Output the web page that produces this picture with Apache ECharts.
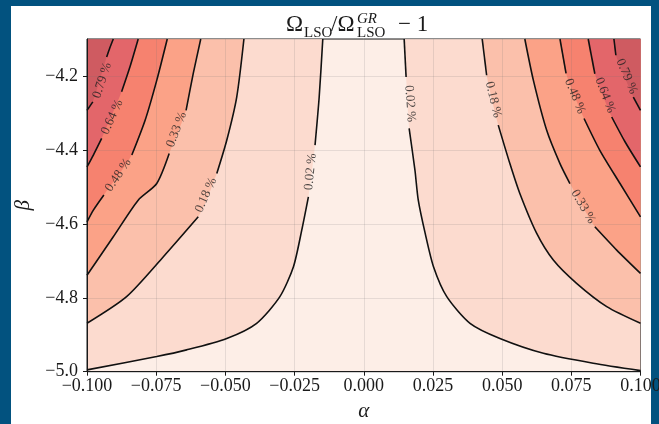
<!DOCTYPE html>
<html>
<head>
<meta charset="utf-8">
<script src="https://cdn.jsdelivr.net/npm/echarts@6/dist/echarts.min.js"></script>
<style>
  html, body { margin: 0; padding: 0; background: #02527f; }
  #sheet { position: absolute; left: 11px; top: 6px; width: 640px; height: 418px; background: #fff; }
  #chart { position: absolute; left: 0; top: 0; width: 659px; height: 424px; }
</style>
</head>
<body>
<div id="sheet"></div>
<div id="chart"></div>
<script>
// contour levels (percent)
var levels = [0.02, 0.18, 0.33, 0.48, 0.64, 0.79];

// axis ticks
var alphaTicks = [-0.1, -0.075, -0.05, -0.025, 0, 0.025, 0.05, 0.075, 0.1];
var betaTicks = [-5.0, -4.8, -4.6, -4.4, -4.2];

// contour lines, [alpha, beta]; each is split in two where the label sits
var left002 = [
    [[-0.0148, -4.1], [-0.0161, -4.257], [-0.0176, -4.387]],
    [[-0.0200, -4.527], [-0.0224, -4.617], [-0.0254, -4.716], [-0.0303, -4.797], [-0.0387, -4.869],
     [-0.0495, -4.910], [-0.0640, -4.941], [-0.0748, -4.959], [-0.1, -4.995]]
];
var left018 = [
    [[-0.0433, -4.1], [-0.0459, -4.257], [-0.0495, -4.374], [-0.0531, -4.464]],
    [[-0.0598, -4.581], [-0.0724, -4.689], [-0.0857, -4.797], [-0.1, -4.869]]
];
var left033 = [
    [[-0.0589, -4.1], [-0.0616, -4.193], [-0.0642, -4.293]],
    [[-0.0703, -4.410], [-0.0748, -4.491], [-0.0815, -4.536], [-0.0905, -4.635], [-0.1, -4.739]]
];
var left048 = [
    [[-0.0710, -4.1], [-0.0748, -4.212], [-0.0790, -4.320], [-0.0838, -4.414]],
    [[-0.0939, -4.522], [-0.0977, -4.563], [-0.1, -4.595]]
];
var left064 = [
    [[-0.0815, -4.1], [-0.0845, -4.176], [-0.0875, -4.243]],
    [[-0.0947, -4.369], [-0.0977, -4.414], [-0.1, -4.446]]
];
var left079 = [
    [[-0.0905, -4.1], [-0.0918, -4.125], [-0.0929, -4.149]],
    [[-0.0979, -4.270], [-0.1, -4.293]]
];

var right002 = [
    [[0.0146, -4.1], [0.0153, -4.203]],
    [[0.0164, -4.342], [0.0185, -4.455], [0.0197, -4.536], [0.0222, -4.626], [0.0252, -4.716], [0.0300, -4.797],
     [0.0384, -4.869], [0.0492, -4.910], [0.0649, -4.950], [0.0829, -4.977], [0.1, -4.997]]
];
var right018 = [
    [[0.0428, -4.1], [0.0444, -4.198]],
    [[0.0486, -4.333], [0.0528, -4.437], [0.0564, -4.518], [0.0625, -4.626], [0.0685, -4.698],
     [0.0769, -4.761], [0.0878, -4.824], [0.1, -4.869]]
];
var right033 = [
    [[0.0582, -4.1], [0.0613, -4.212], [0.0661, -4.347], [0.0709, -4.437], [0.0745, -4.491]],
    [[0.0835, -4.608], [0.0914, -4.671], [0.1, -4.734]]
];
var right048 = [
    [[0.0709, -4.1], [0.0731, -4.193]],
    [[0.0796, -4.315], [0.0853, -4.401], [0.0926, -4.491], [0.1, -4.581]]
];
var right064 = [
    [[0.0811, -4.1], [0.0835, -4.194]],
    [[0.0896, -4.311], [0.0944, -4.378], [0.1, -4.446]]
];
var right079 = [
    [[0.0904, -4.1], [0.0911, -4.144]],
    [[0.0974, -4.257], [0.1, -4.293]]
];

// inline contour labels: position, text, angle along the line
var labelPos = [
    [-0.0192, -4.459], [-0.0570, -4.522], [-0.0676, -4.345], [-0.0887, -4.468], [-0.0909, -4.311], [-0.0945, -4.212],
    [0.0167, -4.275], [0.0468, -4.264], [0.0793, -4.554], [0.0763, -4.255], [0.0872, -4.252], [0.0950, -4.201]
];
var labelText = ['0.02 %', '0.18 %', '0.33 %', '0.48 %', '0.64 %', '0.79 %',
                 '0.02 %', '0.18 %', '0.33 %', '0.48 %', '0.64 %', '0.79 %'];
var labelAngle = [84, 66, 69, 56, 66, 72, -86, -77, -60, -68, -69, -67];

var leftContours = [left002, left018, left033, left048, left064, left079];
var rightContours = [right002, right018, right033, right048, right064, right079];

// fill colours, from the lowest band upwards
var bandColors = ['#fdeee7', '#fcdbcf', '#fbc0ab', '#fba287', '#f6826f', '#e3666a', '#cf5b61'];

var FONT = 'Liberation Serif';
var INK = '#1a1a1a';
var SMOOTH = 0.25;

function fmt(v, d) {
    if (Math.abs(v) < 1e-9) v = 0;
    return v.toFixed(d).replace('-', '\u2212');
}

// band above a contour: area from the line up to the top of the beta axis
function fillSeries(contour, color) {
    return {
        type: 'line',
        z: 1,
        silent: true,
        data: contour[0].concat(contour[1]),
        showSymbol: false,
        smooth: SMOOTH,
        lineStyle: { width: 0 },
        areaStyle: { color: color, opacity: 1, origin: 'end' }
    };
}

function lineSeries(points) {
    return {
        type: 'line',
        z: 4,
        silent: true,
        data: points,
        showSymbol: false,
        smooth: SMOOTH,
        lineStyle: { color: '#111', width: 1.6 }
    };
}

var series = [];
// fills, lowest level first so the higher ones stack on top
for (var i = 0; i < levels.length; i++) {
    series.push(fillSeries(leftContours[i], bandColors[i + 1]));
    series.push(fillSeries(rightContours[i], bandColors[i + 1]));
}
// contour lines
leftContours.concat(rightContours).forEach(function (c) {
    series.push(lineSeries(c[0]));
    series.push(lineSeries(c[1]));
});
// labels
series.push({
    type: 'scatter',
    z: 5,
    silent: true,
    symbolSize: 0,
    data: labelPos.map(function (p, k) {
        return { value: p, label: { formatter: labelText[k], rotate: labelAngle[k] } };
    }),
    label: { show: true, position: 'inside', fontFamily: FONT, fontSize: 13, color: '#222' }
});

var chart = echarts.init(document.getElementById('chart'));
chart.setOption({
    animation: false,
    grid: {
        left: 87, right: 18.5, top: 39, bottom: 52.3,
        outerBoundsMode: 'none',
        show: true, backgroundColor: bandColors[0], borderColor: INK, borderWidth: 1
    },
    xAxis: {
        type: 'value', min: alphaTicks[0], max: alphaTicks[alphaTicks.length - 1], interval: 0.025, z: 3,
        axisLine: { onZero: false, lineStyle: { color: INK } },
        axisTick: { length: 4, lineStyle: { color: INK } },
        axisLabel: { fontFamily: FONT, fontSize: 18, color: INK, margin: 6,
            formatter: function (v) { return fmt(v, 3); } },
        splitLine: { show: true, lineStyle: { color: 'rgba(110,110,110,0.16)' } },
        name: '\u03b1', nameLocation: 'middle', nameGap: 27,
        nameTextStyle: { fontFamily: FONT, fontStyle: 'italic', fontSize: 21, color: INK }
    },
    yAxis: {
        type: 'value', min: betaTicks[0], max: -4.1, interval: 0.2, z: 3,
        axisLine: { onZero: false, lineStyle: { color: INK } },
        axisTick: { length: 4, lineStyle: { color: INK } },
        axisLabel: { fontFamily: FONT, fontSize: 18, color: INK, margin: 9, showMaxLabel: false,
            formatter: function (v) { return v > -4.15 ? '' : fmt(v, 1); } },
        splitLine: { show: true, lineStyle: { color: 'rgba(110,110,110,0.16)' } },
        name: '\u03b2', nameLocation: 'middle', nameGap: 47, nameRotate: 90,
        nameTextStyle: { fontFamily: FONT, fontStyle: 'italic', fontSize: 21, color: INK }
    },
    graphic: [
        { type: 'text', x: 286, y: 36, style: { text: '\u03a9', font: '23px "' + FONT + '"', fill: INK, verticalAlign: 'bottom' } },
        { type: 'text', x: 304, y: 41, style: { text: 'LSO', font: '15px "' + FONT + '"', fill: INK, verticalAlign: 'bottom' } },
        { type: 'text', x: 331, y: 36, style: { text: '/\u03a9', font: '23px "' + FONT + '"', fill: INK, verticalAlign: 'bottom' } },
        { type: 'text', x: 357, y: 27, style: { text: 'GR', font: 'italic 15px "' + FONT + '"', fill: INK, verticalAlign: 'bottom' } },
        { type: 'text', x: 357, y: 41, style: { text: 'LSO', font: '15px "' + FONT + '"', fill: INK, verticalAlign: 'bottom' } },
        { type: 'text', x: 398, y: 36, style: { text: '\u2212 1', font: '23px "' + FONT + '"', fill: INK, verticalAlign: 'bottom' } }
    ],
    series: series
});
</script>
</body>
</html>
